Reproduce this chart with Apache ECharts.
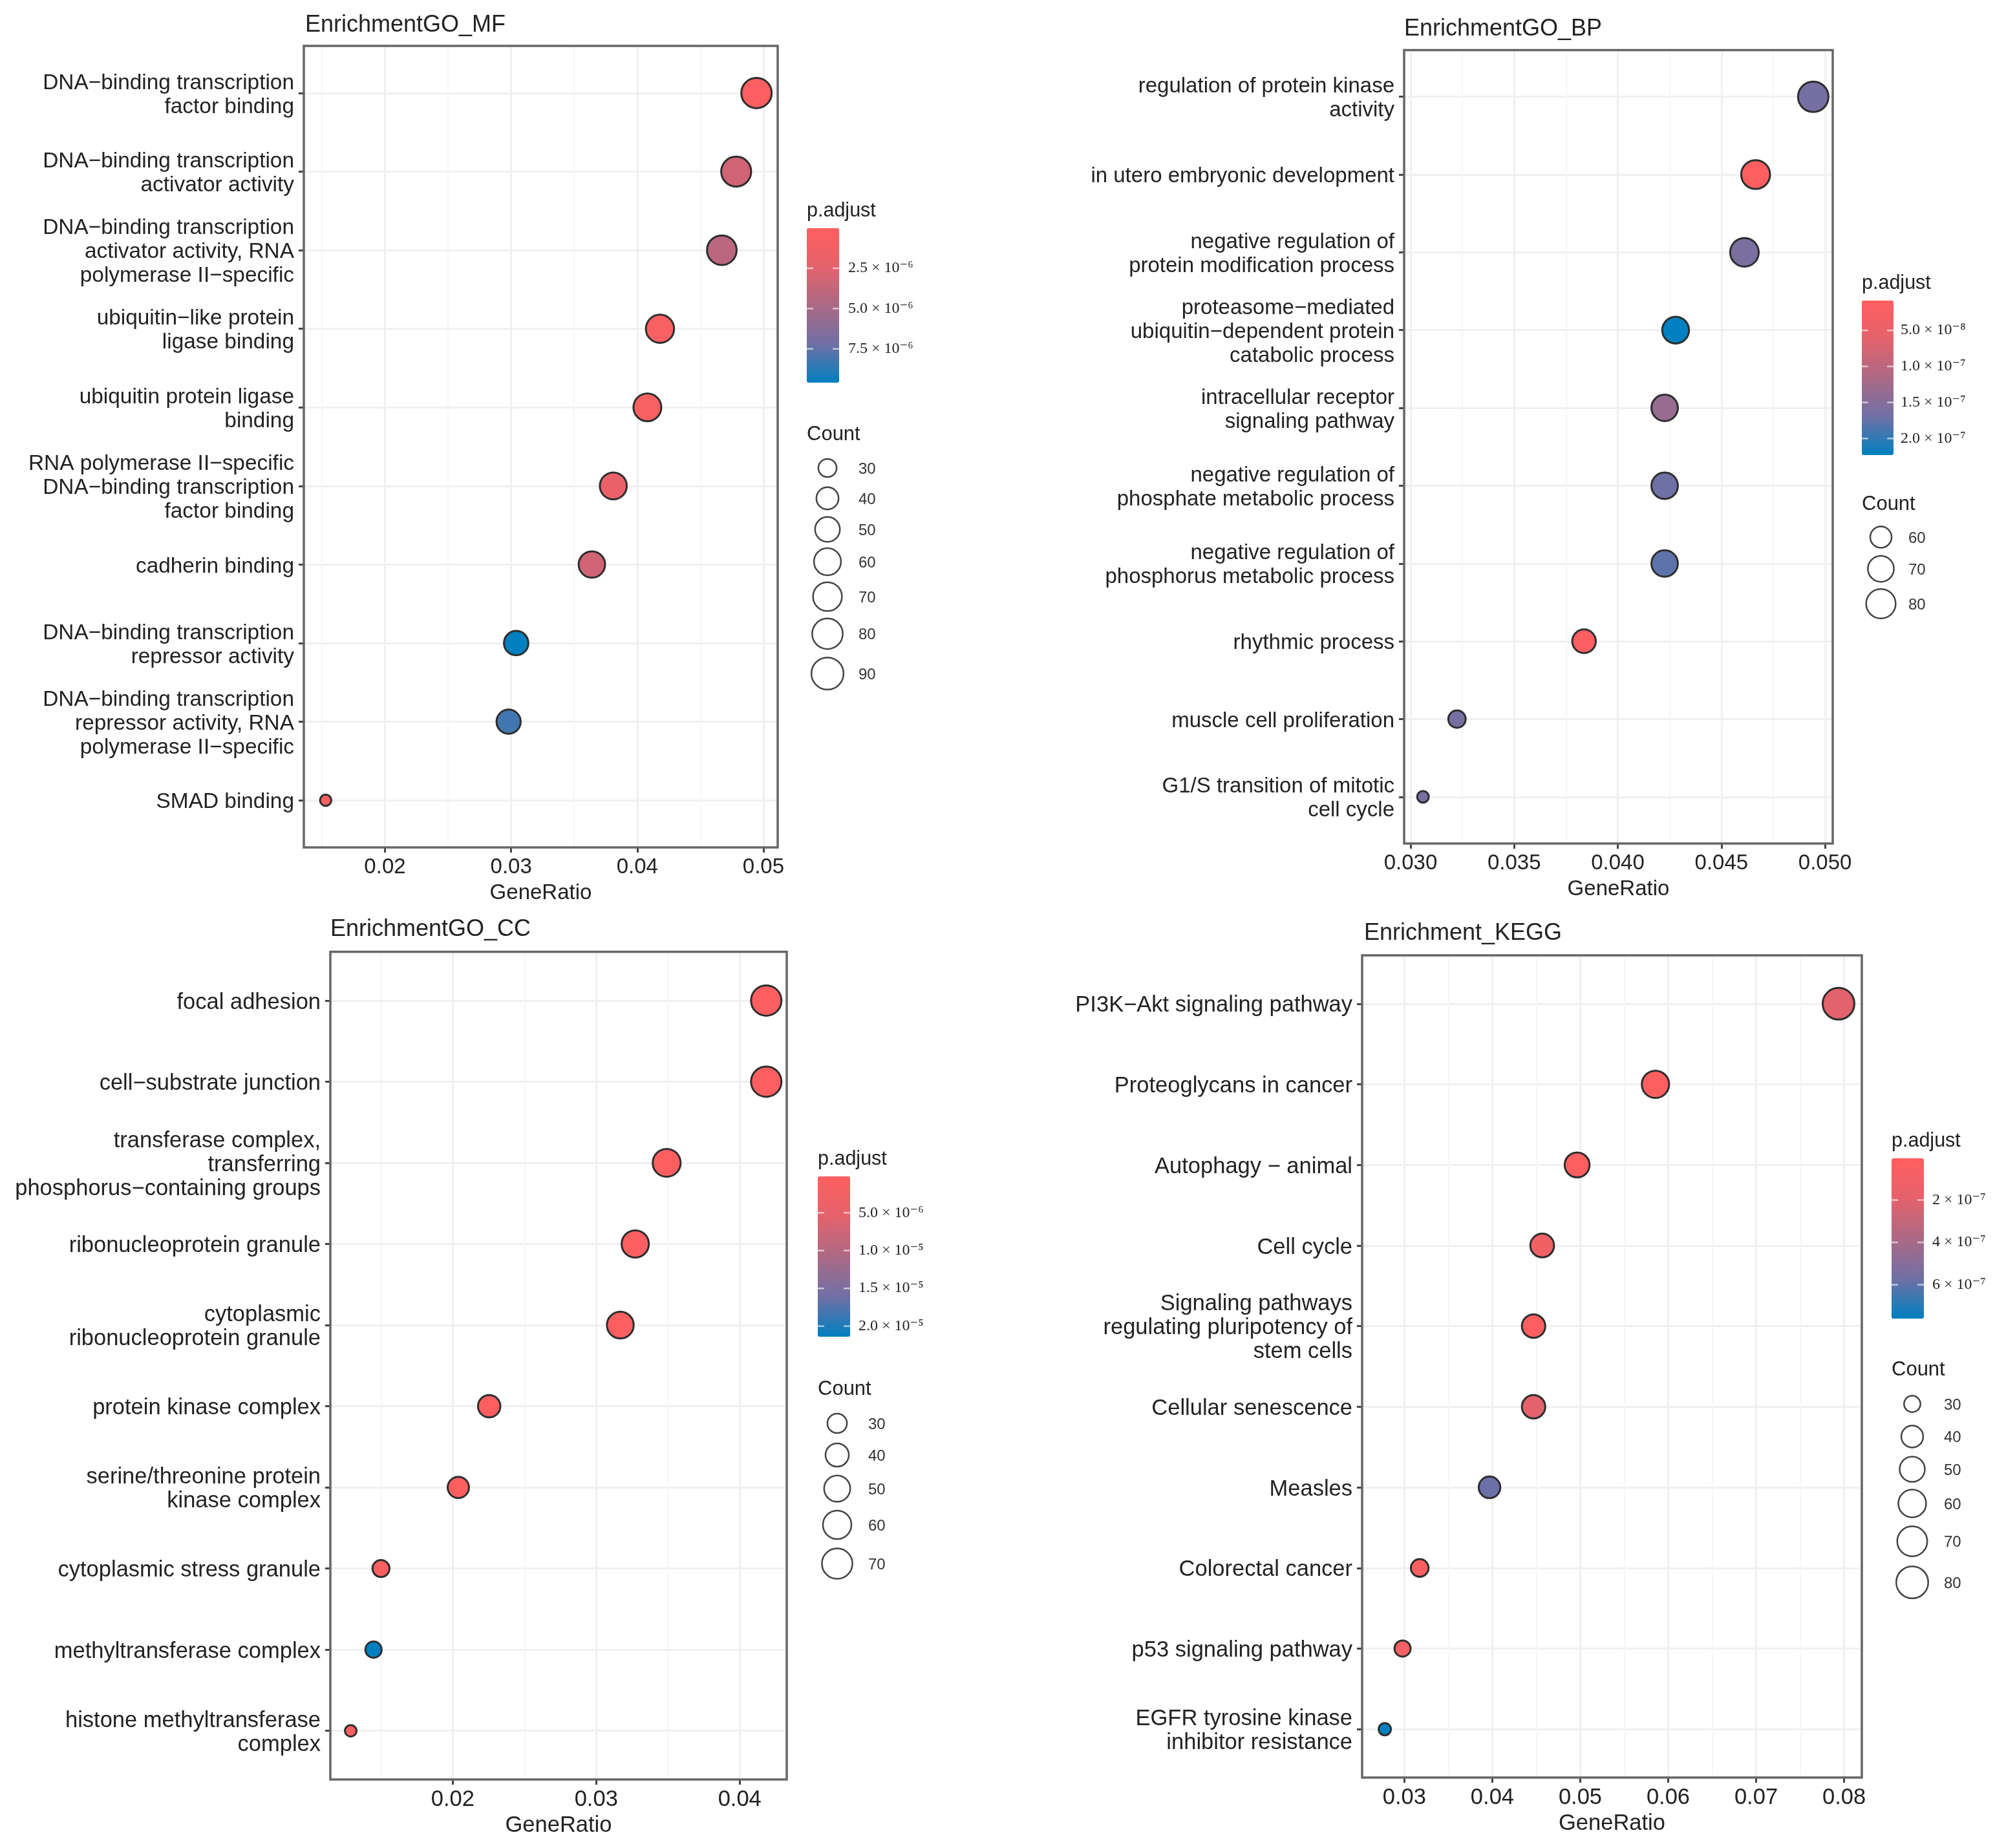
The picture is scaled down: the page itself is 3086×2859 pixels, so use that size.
<!DOCTYPE html>
<html><head><meta charset="utf-8">
<style>html,body{margin:0;padding:0;background:#fff}#c{width:3086px;height:2859px}</style>
<script src="https://cdn.jsdelivr.net/npm/echarts@6/dist/echarts.min.js"></script>
</head><body><div id="c"></div>
<script>
// ---------- data ----------
const mfTitle = 'EnrichmentGO_MF';
const mfTerms = ['DNA−binding transcription\nfactor binding','DNA−binding transcription\nactivator activity','DNA−binding transcription\nactivator activity, RNA\npolymerase II−specific','ubiquitin−like protein\nligase binding','ubiquitin protein ligase\nbinding','RNA polymerase II−specific\nDNA−binding transcription\nfactor binding','cadherin binding','DNA−binding transcription\nrepressor activity','DNA−binding transcription\nrepressor activity, RNA\npolymerase II−specific','SMAD binding'];
const mfRatio = [0.04945,0.04784,0.0467,0.0418,0.0408,0.0381,0.0364,0.0304,0.0298,0.0153];
const mfCount = [89,86,84,75,73,68,65,55,54,25];
const mfPadj  = [4e-7,3.2e-6,4.2e-6,5e-7,5e-7,1.9e-6,3.2e-6,9.6e-6,8.2e-6,6e-7];
const mfTicks = [0.02,0.03,0.04,0.05];
const mfMinor = [0.015,0.025,0.035,0.045];
const mfBarTicks = [2.5e-6,5e-6,7.5e-6];
const mfBarLabels = ['2.5 × 10⁻⁶','5.0 × 10⁻⁶','7.5 × 10⁻⁶'];
const mfLegend = [30,40,50,60,70,80,90];

const bpTitle = 'EnrichmentGO_BP';
const bpTerms = ['regulation of protein kinase\nactivity','in utero embryonic development','negative regulation of\nprotein modification process','proteasome−mediated\nubiquitin−dependent protein\ncatabolic process','intracellular receptor\nsignaling pathway','negative regulation of\nphosphate metabolic process','negative regulation of\nphosphorus metabolic process','rhythmic process','muscle cell proliferation','G1/S transition of mitotic\ncell cycle'];
const bpRatio = [0.04943,0.04665,0.04611,0.04279,0.04226,0.04226,0.04226,0.03837,0.03224,0.0306];
const bpCount = [84,79,78,73,72,72,72,65,55,52];
const bpPadj  = [1.65e-7,1.2e-8,1.6e-7,2.23e-7,1.35e-7,1.7e-7,1.78e-7,1.5e-8,1.65e-7,1.65e-7];
const bpTicks = [0.03,0.035,0.04,0.045,0.05];
const bpMinor = [0.0325,0.0375,0.0425,0.0475];
const bpBarTicks = [5e-8,1e-7,1.5e-7,2e-7];
const bpBarLabels = ['5.0 × 10⁻⁸','1.0 × 10⁻⁷','1.5 × 10⁻⁷','2.0 × 10⁻⁷'];
const bpLegend = [60,70,80];

const ccTitle = 'EnrichmentGO_CC';
const ccTerms = ['focal adhesion','cell−substrate junction','transferase complex,\ntransferring\nphosphorus−containing groups','ribonucleoprotein granule','cytoplasmic\nribonucleoprotein granule','protein kinase complex','serine/threonine protein\nkinase complex','cytoplasmic stress granule','methyltransferase complex','histone methyltransferase\ncomplex'];
const ccRatio = [0.04185,0.04185,0.03491,0.03272,0.03168,0.02254,0.02039,0.015,0.01448,0.01289];
const ccCount = [71,71,59,56,54,38,35,26,25,22];
const ccPadj  = [6e-7,6e-7,6e-7,6e-7,6e-7,6e-7,6e-7,1e-6,2.14e-5,1e-6];
const ccTicks = [0.02,0.03,0.04];
const ccMinor = [0.015,0.025,0.035];
const ccBarTicks = [5e-6,1e-5,1.5e-5,2e-5];
const ccBarLabels = ['5.0 × 10⁻⁶','1.0 × 10⁻⁵','1.5 × 10⁻⁵','2.0 × 10⁻⁵'];
const ccLegend = [30,40,50,60,70];

const keggTitle = 'Enrichment_KEGG';
const keggTerms = ['PI3K−Akt signaling pathway','Proteoglycans in cancer','Autophagy − animal','Cell cycle','Signaling pathways\nregulating pluripotency of\nstem cells','Cellular senescence','Measles','Colorectal cancer','p53 signaling pathway','EGFR tyrosine kinase\ninhibitor resistance'];
const keggRatio = [0.07937,0.05855,0.04964,0.04567,0.04469,0.04469,0.03968,0.03174,0.02979,0.02777];
const keggCount = [80,59,50,46,45,45,40,32,30,28];
const keggPadj  = [2e-7,1.5e-8,2e-8,1.1e-7,2e-8,1.9e-7,5.8e-7,3e-8,7.6e-8,7.6e-7];
const keggTicks = [0.03,0.04,0.05,0.06,0.07,0.08];
const keggMinor = [0.035,0.045,0.055,0.065,0.075];
const keggBarTicks = [2e-7,4e-7,6e-7];
const keggBarLabels = ['2 × 10⁻⁷','4 × 10⁻⁷','6 × 10⁻⁷'];
const keggLegend = [30,40,50,60,70,80];

// ---------- layout ----------
const panels = [
 {title:mfTitle,terms:mfTerms,ratio:mfRatio,count:mfCount,padj:mfPadj,ticks:mfTicks,minor:mfMinor,digits:2,
  barTicks:mfBarTicks,barLabels:mfBarLabels,legend:mfLegend,fs:33.4,xfs:33,
  g:[470,71,1203,1311],xr:[0.01357,0.05113],tx:472,ty:39,
  cd:[25,89],dr:[20.5,50],pr:[1e-8,9.6e-6],
  bar:[1248,353,50,239],ptY:327,barLabX:1312,cntY:672,cx:1280,cys:[724,771,819,869,923,980.5,1042],cLabX:1328,nameGap:54,legPad:2},
 {title:bpTitle,terms:bpTerms,ratio:bpRatio,count:bpCount,padj:bpPadj,ticks:bpTicks,minor:bpMinor,digits:3,
  barTicks:bpBarTicks,barLabels:bpBarLabels,legend:bpLegend,fs:33,xfs:33,
  g:[2172,77.5,2835,1305],xr:[0.02969,0.05037],tx:2172,ty:45,
  cd:[52,84],dr:[21,50],pr:[8.6e-9,2.23e-7],
  bar:[2880,465,49,239],ptY:439,barLabX:2940,cntY:780,cx:2909.5,cys:[831,880,934],cLabX:2952,nameGap:54,legPad:0},
 {title:ccTitle,terms:ccTerms,ratio:ccRatio,count:ccCount,padj:ccPadj,ticks:ccTicks,minor:ccMinor,digits:2,
  barTicks:ccBarTicks,barLabels:ccBarLabels,legend:ccLegend,fs:34.5,xfs:34.5,
  g:[511,1472.6,1217,2753],xr:[0.01147,0.04328],tx:511,ty:1438,
  cd:[22,71],dr:[21,50],pr:[1.9e-7,2.14e-5],
  bar:[1265,1820,50,248],ptY:1794,barLabX:1328,cntY:2149,cx:1295,cys:[2202,2251,2303,2359,2419],cLabX:1343,nameGap:54,legPad:0},
 {title:keggTitle,terms:keggTerms,ratio:keggRatio,count:keggCount,padj:keggPadj,ticks:keggTicks,minor:keggMinor,digits:2,
  barTicks:keggBarTicks,barLabels:keggBarLabels,legend:keggLegend,fs:34.5,xfs:34.5,
  g:[2107,1478,2880,2750],xr:[0.02519,0.08202],tx:2110,ty:1444,
  cd:[28,80],dr:[22,52],pr:[3e-9,7.6e-7],
  bar:[2926,1792,50,248],ptY:1766,barLabX:2989,cntY:2119,cx:2958,cys:[2172,2222.5,2273,2326,2384.5,2448],cLabX:3007,nameGap:54,legPad:0}
];
const FONT = '"Liberation Sans", Arial, sans-serif';
const SERIF = '"Liberation Serif", "DejaVu Serif", serif';
const INK = '#222';
const ramp = ['#ff5f5f','#e4626c','#ac6985','#7070a5','#0080c0'];
const outer = (p,c)=>p.dr[0]+(p.dr[1]-p.dr[0])*Math.sqrt(Math.max(0,(c-p.cd[0])/(p.cd[1]-p.cd[0])));

const grid=[],xAxis=[],yAxis=[],series=[],visualMap=[],graphic=[];
const txt=(x,y,t,size,font,color)=>graphic.push({type:'text',x,y,silent:true,
  style:{text:t,fontSize:size,fontFamily:font,fill:color||INK,textAlign:'left',textVerticalAlign:'middle'}});

panels.forEach((p,i)=>{
  const [l,t,r,b]=p.g;
  grid.push({left:l,top:t,width:r-l,height:b-t,show:false,containLabel:false});
  // panel frame sits above the grid lines
  graphic.push({type:'rect',silent:true,z:50,shape:{x:l,y:t,width:r-l,height:b-t},style:{fill:'none',stroke:'#666',lineWidth:3.5}});
  xAxis.push({gridIndex:i,type:'value',min:p.xr[0],max:p.xr[1],position:'bottom',
    name:'GeneRatio',nameLocation:'middle',nameGap:p.nameGap,nameTextStyle:{fontSize:p.xfs,fontFamily:FONT,color:INK},
    axisLine:{show:false,onZero:false},
    axisTick:{show:true,length:8,customValues:p.ticks,lineStyle:{color:'#444',width:3}},
    axisLabel:{show:true,customValues:p.ticks,margin:14,fontSize:p.xfs,fontFamily:FONT,color:INK,formatter:v=>Number(v).toFixed(p.digits)},
    splitLine:{show:true,lineStyle:{color:'#f0f0f0',width:3}}});
  xAxis.push({gridIndex:i,type:'value',min:p.xr[0],max:p.xr[1],position:'bottom',
    axisLine:{show:false,onZero:false},axisTick:{show:false,customValues:p.minor},axisLabel:{show:false},
    splitLine:{show:true,lineStyle:{color:'#f6f6f6',width:2}}});
  const idx=p.terms.map((_,k)=>k);
  yAxis.push({gridIndex:i,type:'value',inverse:true,min:-0.6,max:9.6,
    axisLine:{show:false,onZero:false},
    axisTick:{show:true,length:8,customValues:idx,lineStyle:{color:'#444',width:3}},
    axisLabel:{show:true,customValues:idx.map(k=>k+0.025),margin:15,fontSize:p.fs,lineHeight:37,fontFamily:FONT,color:INK,align:'right',
      formatter:v=>p.terms[Math.round(v)]},
    splitLine:{show:true,lineStyle:{color:'#f0f0f0',width:3}}});
  series.push({type:'scatter',name:p.title,xAxisIndex:i*2,yAxisIndex:i,z:5,
    data:p.terms.map((_,k)=>[p.ratio[k],k,p.padj[k],p.count[k]]),
    symbol:'circle',symbolSize:v=>outer(p,v[3])-3,
    itemStyle:{opacity:1,borderColor:'#2e2e2e',borderWidth:3},
    emphasis:{disabled:true},encode:{x:0,y:1}});
  visualMap.push({type:'continuous',seriesIndex:i,dimension:2,min:p.pr[0],max:p.pr[1],
    left:p.bar[0],top:p.bar[1],itemWidth:p.bar[2],itemHeight:p.bar[3],padding:0,inverse:true,
    calculable:false,hoverLink:false,realtime:false,text:null,showLabel:false,
    inRange:{color:ramp},textStyle:{fontSize:1,color:'rgba(0,0,0,0)'}});
  // titles and legends
  txt(p.tx,p.ty,p.title,36,FONT);
  txt(p.bar[0],p.ptY,'p.adjust',30.5,FONT);
  txt(p.bar[0],p.cntY,'Count',31,FONT);
  p.barTicks.forEach((v,k)=>{
    const y=p.bar[1]+(v-p.pr[0])/(p.pr[1]-p.pr[0])*p.bar[3], w=p.bar[2]/5;
    [[p.bar[0],p.bar[0]+w],[p.bar[0]+p.bar[2]-w,p.bar[0]+p.bar[2]]].forEach(s=>graphic.push({type:'line',silent:true,z:10,
      shape:{x1:s[0],y1:y,x2:s[1],y2:y},style:{stroke:'rgba(255,255,255,0.6)',lineWidth:2.5}}));
    txt(p.barLabX,y,p.barLabels[k],24,SERIF);
  });
  p.legend.forEach((c,k)=>{
    const d=outer(p,c)+p.legPad;
    graphic.push({type:'circle',silent:true,shape:{cx:p.cx,cy:p.cys[k],r:d/2-1.25},style:{fill:'#fff',stroke:'#444',lineWidth:2.5}});
    txt(p.cLabX,p.cys[k]+2,String(c),24,FONT,'#333');
  });
});

const chart=echarts.init(document.getElementById('c'),null,{renderer:'canvas',width:3086,height:2859});
chart.setOption({animation:false,backgroundColor:'#fff',textStyle:{fontFamily:FONT},grid,xAxis,yAxis,series,visualMap,graphic:{elements:graphic}});
</script></body></html>
